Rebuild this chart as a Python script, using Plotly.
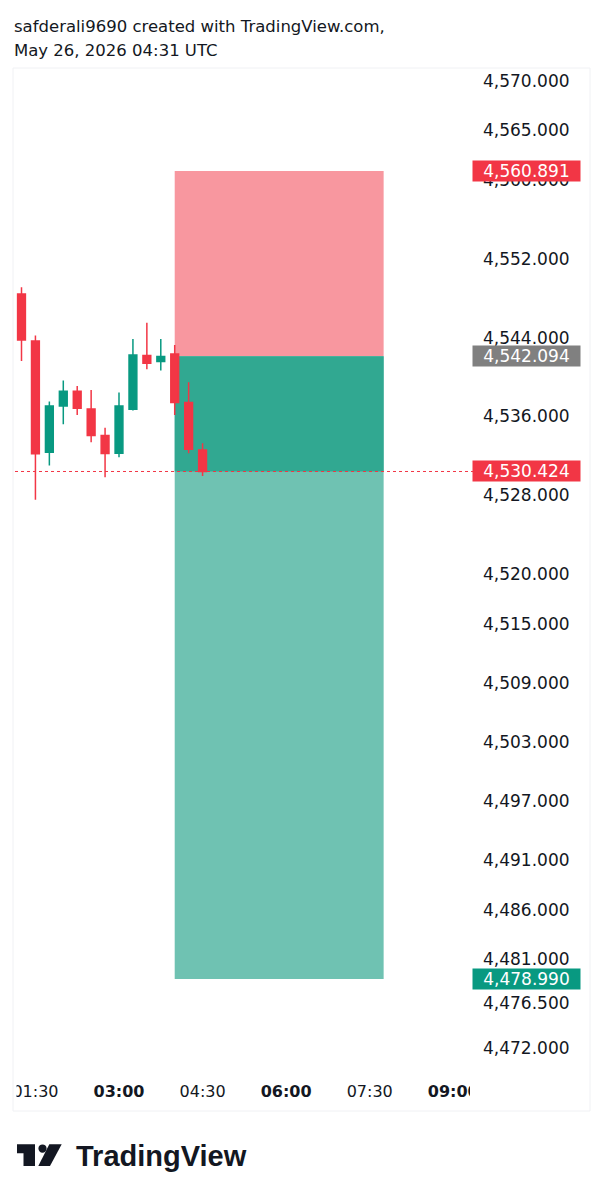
import plotly.graph_objects as go

# page has an 8px body margin; keep the figure inside the 603x1200 window
OFF = 8
W, H = 603 - 2 * OFF, 1200 - 2 * OFF

# ---- data ----
times = ["2026-05-26 01:15", "2026-05-26 01:30", "2026-05-26 01:45", "2026-05-26 02:00",
         "2026-05-26 02:15", "2026-05-26 02:30", "2026-05-26 02:45", "2026-05-26 03:00",
         "2026-05-26 03:15", "2026-05-26 03:30", "2026-05-26 03:45", "2026-05-26 04:00",
         "2026-05-26 04:15", "2026-05-26 04:30"]
opens  = [4548.42, 4543.66, 4532.38, 4537.07, 4538.56, 4536.77, 4534.06, 4532.28,
          4536.74, 4542.17, 4541.56, 4542.34, 4537.41, 4532.61]
highs  = [4549.10, 4544.20, 4537.51, 4539.64, 4539.10, 4538.69, 4534.87, 4538.42,
          4543.86, 4545.51, 4543.86, 4543.25, 4539.47, 4533.29]
lows   = [4541.63, 4527.55, 4531.02, 4535.22, 4536.16, 4533.39, 4529.85, 4531.87,
          4536.60, 4540.79, 4540.65, 4536.16, 4532.28, 4529.98]
closes = [4543.76, 4532.21, 4537.07, 4538.56, 4536.84, 4534.06, 4532.24, 4537.07,
          4542.24, 4541.40, 4542.07, 4537.41, 4532.68, 4530.424]

stop_price = 4560.891
entry_price = 4542.094
current_price = 4530.424
target_price = 4478.990
pos_start = "2026-05-26 04:00"
pos_end = "2026-05-26 07:45"

ytick_vals = [4570, 4565, 4560, 4552, 4544, 4536, 4528, 4520, 4515, 4509,
              4503, 4497, 4491, 4486, 4481, 4476.5, 4472]
xtick_vals = ["2026-05-26 01:30", "2026-05-26 03:00", "2026-05-26 04:30",
              "2026-05-26 06:00", "2026-05-26 07:30", "2026-05-26 09:00"]
xtick_text = ["01:30", "<b>03:00</b>", "04:30", "<b>06:00</b>", "07:30", "<b>09:00</b>"]

RED = "#F23645"
GREEN = "#089981"
TXT = "#131722"
FONT = "DejaVu Sans"


def px(x):
    return (x - OFF) / W


def py(y):
    return 1 - (y - OFF) / H


fig = go.Figure()
fig.add_trace(go.Candlestick(
    x=times, open=opens, high=highs, low=lows, close=closes,
    increasing=dict(fillcolor=GREEN, line=dict(color=GREEN, width=1.5)),
    decreasing=dict(fillcolor=RED, line=dict(color=RED, width=1.5)),
    whiskerwidth=0, showlegend=False, hoverinfo="skip",
))

shapes = []
# position tool
shapes.append(dict(type="rect", xref="x", yref="y", x0=pos_start, x1=pos_end,
                   y0=entry_price, y1=stop_price, fillcolor="#F8979F",
                   line=dict(width=0), layer="below"))
shapes.append(dict(type="rect", xref="x", yref="y", x0=pos_start, x1=pos_end,
                   y0=target_price, y1=entry_price, fillcolor="#6FC2B2",
                   line=dict(width=0), layer="below"))
shapes.append(dict(type="rect", xref="x", yref="y", x0=pos_start, x1=pos_end,
                   y0=current_price, y1=entry_price, fillcolor="#31A891",
                   line=dict(width=0), layer="below"))
# current price dotted line
shapes.append(dict(type="line", xref="paper", yref="y", x0=px(15), x1=px(474),
                   y0=current_price, y1=current_price,
                   line=dict(color=RED, width=1, dash="dot"), layer="above"))
# clip x tick labels at plot edges
shapes.append(dict(type="rect", xref="paper", yref="paper", x0=px(0), x1=px(16.5),
                   y0=py(1108), y1=py(1076), fillcolor="white", line=dict(width=0),
                   layer="above"))
shapes.append(dict(type="rect", xref="paper", yref="paper", x0=px(470), x1=px(589),
                   y0=py(1108), y1=py(1076), fillcolor="white", line=dict(width=0),
                   layer="above"))
# panel frame
shapes.append(dict(type="rect", xref="paper", yref="paper", x0=px(13), x1=px(590),
                   y0=py(1111), y1=py(68), fillcolor="rgba(0,0,0,0)",
                   line=dict(color="#F0F1F4", width=1), layer="above"))


# TradingView logo mark
def path(pts):
    return "M " + " L ".join(f"{px(a):.5f},{py(b):.5f}" for a, b in pts) + " Z"


shapes.append(dict(type="path", xref="paper", yref="paper",
                   path=path([(17, 1144.3), (35, 1144.3), (35, 1166), (23.5, 1166),
                              (23.5, 1153.3), (17, 1153.3)]),
                   fillcolor=TXT, line=dict(width=0)))
shapes.append(dict(type="circle", xref="paper", yref="paper",
                   x0=px(38.4), x1=px(46.6), y0=py(1152.7), y1=py(1144.4),
                   fillcolor=TXT, line=dict(width=0)))
shapes.append(dict(type="path", xref="paper", yref="paper",
                   path=path([(49.3, 1144.3), (61.7, 1144.3), (50, 1166), (38.3, 1166)]),
                   fillcolor=TXT, line=dict(width=0)))

annotations = []
# header
annotations.append(dict(xref="paper", yref="paper", x=px(12), y=py(27),
                        xanchor="left", yanchor="middle", showarrow=False,
                        text="safderali9690 created with TradingView.com,",
                        font=dict(family=FONT, size=16.5, color=TXT)))
annotations.append(dict(xref="paper", yref="paper", x=px(12), y=py(50),
                        xanchor="left", yanchor="middle", showarrow=False,
                        text="May 26, 2026 04:31 UTC",
                        font=dict(family=FONT, size=16.5, color=TXT)))
# logo text
annotations.append(dict(xref="paper", yref="paper", x=px(74), y=py(1156),
                        xanchor="left", yanchor="middle", showarrow=False,
                        text="<b>TradingView</b>",
                        font=dict(family="Liberation Sans", size=29, color=TXT)))
# price labels
for val, col in [(stop_price, RED), (entry_price, "#808080"),
                 (current_price, RED), (target_price, GREEN)]:
    annotations.append(dict(xref="paper", yref="y", x=px(526), y=val,
                            xanchor="center", yanchor="middle", showarrow=False,
                            text=f"{val:,.3f}", bgcolor=col, width=104, height=17,
                            borderpad=1.5, align="center",
                            font=dict(family=FONT, size=17, color="white")))

fig.update_layout(
    width=W, height=H, autosize=False,
    margin=dict(l=0, r=0, t=0, b=0, pad=0),
    paper_bgcolor="white", plot_bgcolor="white",
    shapes=shapes, annotations=annotations,
    boxgap=0.2,
    xaxis=dict(type="date", domain=[px(15), px(470)], automargin=False,
               range=["2026-05-26 01:08", "2026-05-26 09:18"],
               tickmode="array", tickvals=xtick_vals, ticktext=xtick_text,
               showgrid=False, zeroline=False, showline=False, ticks="",
               ticklabelstandoff=8,
               tickfont=dict(family=FONT, size=16, color=TXT),
               rangeslider=dict(visible=False), fixedrange=True),
    yaxis=dict(side="right", domain=[py(1072), py(68)], automargin=False,
               range=[4469.56, 4571.32],
               tickmode="array", tickvals=ytick_vals, tickformat=",.3f",
               showgrid=False, zeroline=False, showline=False, ticks="",
               ticklabelstandoff=12,
               tickfont=dict(family=FONT, size=17, color=TXT), fixedrange=True),
    hovermode=False,
)

fig.write_html("out.html")
